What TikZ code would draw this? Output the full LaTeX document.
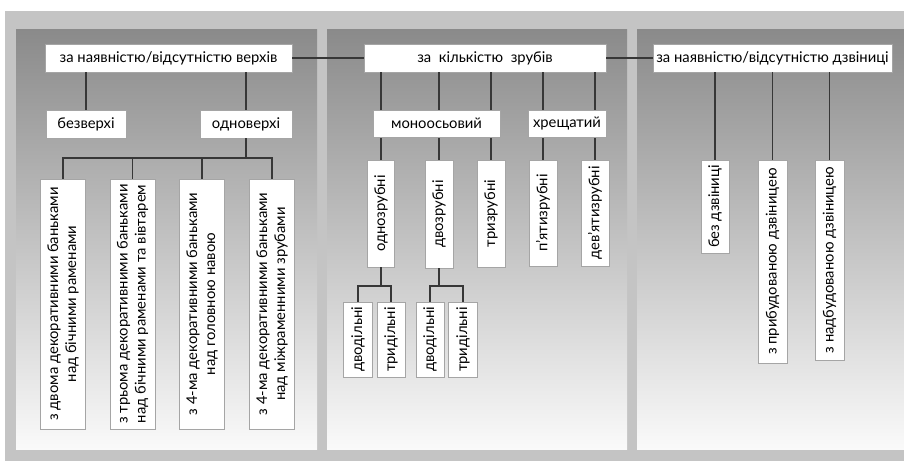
\documentclass[tikz,border=0pt]{standalone}
\usepackage{fontspec}
\setmainfont{Lato}
\definecolor{strip}{RGB}{196,196,196}
\definecolor{ptop}{RGB}{138,138,138}
\definecolor{pmid}{RGB}{185,185,185}
\definecolor{pbot}{RGB}{250,250,250}
\definecolor{ln}{RGB}{55,55,55}
\definecolor{bd}{RGB}{165,165,165}
\newcommand{\dfont}{\fontsize{14.8}{18}\selectfont}
\begin{document}
\begin{tikzpicture}[x=1pt,y=-1pt,
  hbox/.style={fill=white, draw=bd, line width=0.5pt, inner sep=0pt, font=\dfont},
  vbox/.style={hbox, rotate=90, align=center},
  conn/.style={draw=ln, line width=1.3pt},
  panel/.style={top color=ptop, middle color=pmid, bottom color=pbot}]
\useasboundingbox (0,0) rectangle (904,461);
\fill[white] (0,0) rectangle (904,461);
\fill[strip] (5,11) rectangle (904,461);
\shade[panel] (16,29) rectangle (317,449);
\shade[panel] (327,29) rectangle (627,449);
\shade[panel] (637,29) rectangle (904,449);

% header boxes
\node[hbox, minimum width=247pt, minimum height=28pt] (verh) at (168.5,58) {за наявністю/відсутністю верхів};
\node[hbox, minimum width=242pt, minimum height=28pt] (zr) at (485,58) {за\ \ кількістю\ \ зрубів};
\node[hbox, minimum width=239pt, minimum height=28pt] (dz) at (772.5,58) {за наявністю/відсутністю дзвіниці};
\node[hbox, minimum width=80pt, minimum height=28pt] (bez) at (86,124) {безверхі};
\node[hbox, minimum width=92pt, minimum height=28pt] (odn) at (246,124) {одноверхі};

% left vertical boxes
\node[vbox, minimum width=250pt, minimum height=45pt] (b1) at (63,304) {з двома декоративними баньками\\над бічними раменами};
\node[vbox, minimum width=250pt, minimum height=45pt] (b2) at (132.5,304) {з трьома декоративними баньками\\над бічними раменами та вівтарем};
\node[vbox, minimum width=250pt, minimum height=45pt] (b3) at (202,304) {з 4-ма декоративними баньками\\над головною навою};
\node[vbox, minimum width=250pt, minimum height=45pt] (b4) at (272,304) {з 4-ма декоративними баньками\\над міжраменними зрубами};

% middle vertical boxes
\node[vbox, minimum width=107pt, minimum height=27pt] (v1) at (381,213.5) {однозрубні};
\node[vbox, minimum width=108pt, minimum height=28pt] (v2) at (439,214) {двозрубні};
\node[vbox, minimum width=107pt, minimum height=28pt] (v3) at (491,213.5) {тризрубні};
\node[vbox, minimum width=106pt, minimum height=28pt] (v4) at (543,213) {п'ятизрубні};
\node[vbox, minimum width=106pt, minimum height=28pt] (v5) at (595,213) {дев'ятизрубні};
\node[vbox, minimum width=75pt, minimum height=29pt] (s1) at (358,339.5) {дводільні};
\node[vbox, minimum width=75pt, minimum height=28pt] (s2) at (391,339.5) {тридільні};
\node[vbox, minimum width=75pt, minimum height=28pt] (s3) at (430,339.5) {дводільні};
\node[vbox, minimum width=75pt, minimum height=29pt] (s4) at (463,339.5) {тридільні};

% right vertical boxes
\node[vbox, minimum width=93pt, minimum height=28pt] (r1) at (715,206.5) {без дзвіниці};
\node[vbox, minimum width=203pt, minimum height=29pt] (r2) at (772.5,261.5) {з прибудованою дзвіницею};
\node[vbox, minimum width=200pt, minimum height=29pt] (r3) at (829.5,260) {з надбудованою дзвіницею};

% connectors
\draw[conn] (verh.east) -- (zr.west);
\draw[conn] (zr.east) -- (dz.west);
\draw[conn] (verh.south -| bez.north) -- (bez.north);
\draw[conn] (verh.south -| odn.north) -- (odn.north);
\coordinate (j1) at (246,158);
\draw[conn] (odn.south) -- (j1);
\draw[conn] (j1) -| (b1.east);
\draw[conn] (j1) -| (b2.east);
\draw[conn] (j1) -| (b3.east);
\draw[conn] (j1) -| (b4.east);

\draw[conn] (zr.south -| v1.east) -- (v1.east);
\draw[conn] (zr.south -| v2.east) -- (v2.east);
\draw[conn] (zr.south -| v3.east) -- (v3.east);
\draw[conn] (zr.south -| v4.east) -- (v4.east);
\draw[conn] (zr.south -| v5.east) -- (v5.east);
\coordinate (j2) at (381,286);
\coordinate (j3) at (439,286);
\draw[conn] (v1.west) -- (j2);
\draw[conn] (j2) -| (s1.east);
\draw[conn] (j2) -| (s2.east);
\draw[conn] (v2.west) -- (j3);
\draw[conn] (j3) -| (s3.east);
\draw[conn] (j3) -| (s4.east);

\draw[conn] (dz.south -| r1.east) -- (r1.east);
\draw[conn] (dz.south -| r2.east) -- (r2.east);
\draw[conn] (dz.south -| r3.east) -- (r3.east);

% boxes over the lines
\node[hbox, minimum width=127pt, minimum height=27pt] (mono) at (436.5,123.5) {моноосьовий};
\node[hbox, minimum width=78pt, minimum height=27pt] (khr) at (567,123.5) {хрещатий};
\end{tikzpicture}
\end{document}
